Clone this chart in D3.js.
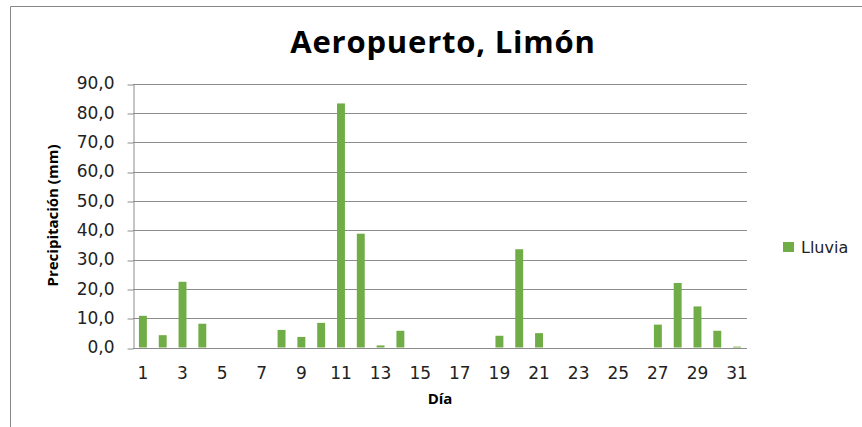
<!DOCTYPE html>
<html>
<head>
<meta charset="utf-8">
<script src="https://cdn.jsdelivr.net/npm/d3@7"></script>
<style>
  body { margin: 0; background: #fff; }
  svg { display: block; }
</style>
</head>
<body>
<div id="chart"></div>
<script>
// Datos: precipitación diaria, Aeropuerto Limón
const dias = d3.range(1, 32)
const lluvia = [
  10.8, 4.2, 22.4, 8.1, 0, 0, 0, 6.0, 3.6, 8.4,
  83.2, 38.8, 0.7, 5.7, 0, 0, 0, 0, 4.0, 33.5,
  4.9, 0, 0, 0, 0, 0, 7.8, 22.0, 14.0, 5.7, 0.3
]
const yTicks = [0, 10, 20, 30, 40, 50, 60, 70, 80, 90]
const serie = 'Lluvia'

const width = 862
const height = 427
const plot = { left: 133, right: 747, top: 83.5, bottom: 347.5 }
const barColor = '#70ad47'
const gridColor = '#8c8c8c'
const font = '"Open Sans", sans-serif'
const tickFont = '"DejaVu Sans", sans-serif'

const data = dias.map((d, i) => ({ dia: d, valor: lluvia[i] }))

const svg = d3.select('#chart')
  .append('svg')
  .attr('width', width)
  .attr('height', height)

// marco del gráfico
svg.append('path')
  .attr('d', `M10.5,${height} V6.5 H${width}`)
  .attr('fill', 'none')
  .attr('stroke', '#888')
  .attr('stroke-width', 1)

const x = d3.scaleBand()
  .domain(dias)
  .range([plot.left, plot.right])
  .paddingInner(0.6)
  .paddingOuter(0.3)

const y = d3.scaleLinear()
  .domain([0, 90])
  .range([plot.bottom, plot.top])

// líneas de cuadrícula
svg.append('g')
  .selectAll('line')
  .data(yTicks)
  .join('line')
  .attr('x1', plot.left)
  .attr('x2', plot.right)
  .attr('y1', d => Math.round(y(d)) + 0.5)
  .attr('y2', d => Math.round(y(d)) + 0.5)
  .attr('stroke', gridColor)

// eje y
const yAxis = svg.append('g')
  .attr('transform', `translate(${plot.left + 0.5},0)`)
  .call(d3.axisLeft(y).tickValues(yTicks).tickSize(6).tickSizeOuter(0).tickPadding(13)
    .tickFormat(d => d3.format('.1f')(d).replace('.', ',')))
yAxis.select('.domain').attr('stroke', gridColor)
yAxis.selectAll('.tick line').attr('stroke', gridColor)
  .attr('transform', d => `translate(0,${Math.round(y(d)) + 0.5 - y(d)})`)
yAxis.selectAll('text')
  .style('font-family', tickFont)
  .style('font-size', '17px')
  .attr('fill', '#222')

// eje x
const xAxis = svg.append('g')
  .attr('transform', `translate(0,${plot.bottom})`)
  .call(d3.axisBottom(x).tickValues(dias.filter(d => d % 2 === 1)).tickSize(0).tickPadding(19))
xAxis.select('.domain').remove()
xAxis.selectAll('text')
  .style('font-family', tickFont)
  .style('font-size', '17px')
  .attr('fill', '#222')

// barras
svg.append('g')
  .selectAll('rect')
  .data(data)
  .join('rect')
  .attr('x', d => x(d.dia))
  .attr('width', x.bandwidth())
  .attr('y', d => y(d.valor))
  .attr('height', d => y(0) - y(d.valor))
  .attr('fill', barColor)

// títulos
svg.append('text')
  .attr('x', 443)
  .attr('y', 53)
  .attr('text-anchor', 'middle')
  .style('font-family', font)
  .style('font-weight', 'bold')
  .style('font-size', '31px')
  .style('letter-spacing', '0.8px')
  .text('Aeropuerto, Limón')

svg.append('text')
  .attr('text-anchor', 'middle')
  .attr('transform', `translate(58, ${(plot.top + plot.bottom) / 2}) rotate(-90)`)
  .style('font-family', font)
  .style('font-weight', 'bold')
  .style('font-size', '15px')
  .text('Precipitación (mm)')

svg.append('text')
  .attr('x', 440)
  .attr('y', 404)
  .attr('text-anchor', 'middle')
  .style('font-family', font)
  .style('font-weight', 'bold')
  .style('font-size', '15px')
  .text('Día')

// leyenda
const legend = svg.append('g').attr('transform', 'translate(783,242)')
legend.append('rect')
  .attr('width', 11)
  .attr('height', 10)
  .attr('fill', barColor)
legend.append('text')
  .attr('x', 18)
  .attr('y', 11)
  .style('font-family', tickFont)
  .style('font-size', '16px')
  .attr('fill', '#222')
  .text(serie)
</script>
</body>
</html>
